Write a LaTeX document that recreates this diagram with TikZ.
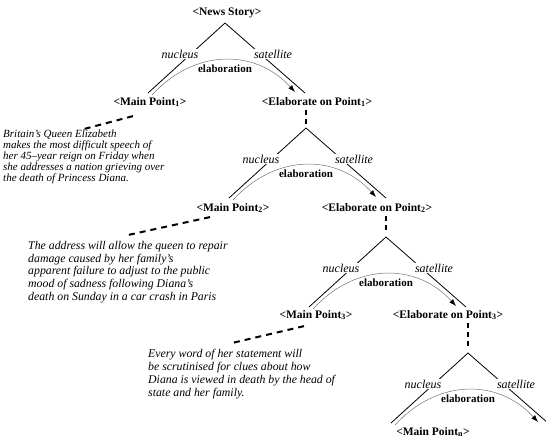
\documentclass[tikz,border=0pt]{standalone}
\usepackage{fontspec}
\setmainfont{Liberation Serif}
\usetikzlibrary{arrows.meta,calc}
\tikzset{
  branch/.style ={draw=black, line width=0.8pt},
  relarc/.style ={draw=black!55, line width=0.5pt,
                  -{Latex[length=7pt,width=5pt,color=black]}},
  span/.style   ={font=\fontsize{11.5}{13}\selectfont\bfseries, inner sep=1pt},
  role/.style   ={font=\fontsize{12}{14}\selectfont\itshape, fill=white, inner sep=1pt},
  rel/.style    ={font=\fontsize{11}{13}\selectfont\bfseries, fill=white, inner sep=0.5pt},
  link/.style   ={draw=black, line width=2pt, dash pattern=on 6pt off 5pt},
  drop/.style   ={draw=black, line width=2pt, dash pattern=on 5pt off 4pt},
  story/.style  ={align=left, anchor=north west, inner sep=0pt},
}
\newcommand{\mainpt}[1]{<Main Point\textsubscript{#1}>}
\newcommand{\elabpt}[1]{<Elaborate on Point\textsubscript{#1}>}

\begin{document}
\begin{tikzpicture}[x=1pt,y=-1pt]
  \useasboundingbox (0,0) rectangle (546,440);

  % ---------------------------------------------------------------- trees
  % one nucleus/satellite split per level, apex given in pixels
  \foreach \k/\ax/\ay in {1/225/23, 2/306/128, 3/386/237, 4/468/353} {
    \coordinate (top\k) at (\ax,\ay);
    \coordinate (nuc\k) at (\ax-77,\ay+70);
    \coordinate (sat\k) at (\ax+80,\ay+70);
    \draw[branch] (top\k) -- (nuc\k);
    \draw[branch] (top\k) -- (sat\k);
    \draw[relarc] ([shift={(4pt,-2pt)}]nuc\k)
        .. controls +(42,-46) and +(-40,-44) .. ([shift={(-10pt,1pt)}]sat\k);
    \node[role] (nl\k) at (\ax-45,\ay+31) {nucleus};
    \node[role] (sl\k) at (\ax+48,\ay+31) {satellite};
    \node[rel]  (el\k) at (\ax,\ay+46) {elaboration};
  }

  % ---------------------------------------------------------------- spans
  \node[span] (news) at (227,13)  {<News Story>};
  \node[span] (mp1)  at (150,102) {\mainpt{1}};
  \node[span] (ep1)  at (317,102) {\elabpt{1}};
  \node[span] (mp2)  at (233,208) {\mainpt{2}};
  \node[span] (ep2)  at (377,208) {\elabpt{2}};
  \node[span] (mp3)  at (316,315) {\mainpt{3}};
  \node[span] (ep3)  at (448,315) {\elabpt{3}};
  \node[span] (mpn)  at (433,432) {\mainpt{n}};

  % elaborations expand downward
  \draw[drop] ([yshift=-2pt]top2 |- ep1.south) -- ([yshift=4pt]top2);
  \draw[drop] ([yshift=-2pt]top3 |- ep2.south) -- ([yshift=4pt]top3);
  \draw[drop] ([yshift=-2pt]top4 |- ep3.south) -- ([yshift=4pt]top4);

  % ---------------------------------------------------------------- text
  \node[story, font=\fontsize{11}{11}\selectfont\itshape] (t1) at (3,130)
    {Britain's Queen Elizabeth\\
     makes the most difficult speech of\\
     her 45--year reign on Friday when\\
     she addresses a nation grieving over\\
     the death of Princess Diana.};
  \node[story, font=\fontsize{11.8}{12.7}\selectfont\itshape] (t2) at (28,241)
    {The address will allow the queen to repair\\
     damage caused by her family's\\
     apparent failure to adjust to the public\\
     mood of sadness following Diana's\\
     death on Sunday in a car crash in Paris};
  \node[story, font=\fontsize{11.8}{13}\selectfont\itshape] (t3) at (148,349)
    {Every word of her statement will\\
     be scrutinised for clues about how\\
     Diana is viewed in death by the head of\\
     state and her family.};

  % main points lead to their sentences
  \draw[link] ([shift={(-17pt,-8pt)}]mp1.south) -- ([shift={(81pt,1pt)}]t1.north west);
  \draw[link] ([shift={(-23pt,-3pt)}]mp2.south) -- ([shift={(100pt,6pt)}]t2.north west);
  \draw[link] ([shift={(-12pt,-5pt)}]mp3.south) -- ([shift={(84pt,6pt)}]t3.north west);
\end{tikzpicture}
\end{document}
